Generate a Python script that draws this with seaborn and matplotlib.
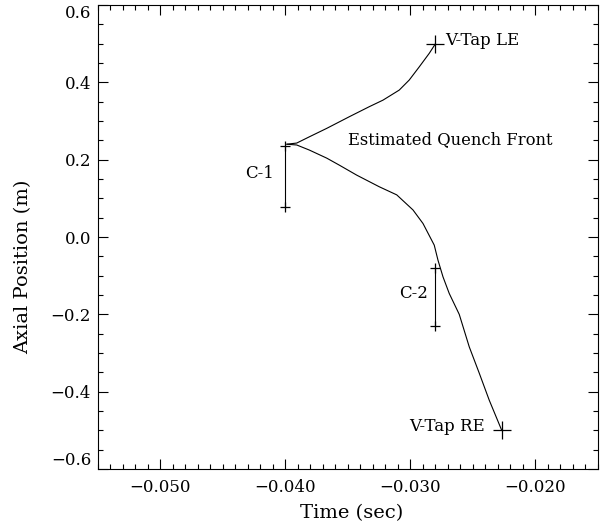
import numpy as np
import pandas as pd
import matplotlib
matplotlib.use("Agg")
import matplotlib.pyplot as plt
import seaborn as sns
from matplotlib.ticker import MultipleLocator, FuncFormatter

# Estimated quench front
upper_x = [-0.0399, -0.0391, -0.0381, -0.0367, -0.0349, -0.0333, -0.0322,
           -0.0309, -0.0301, -0.0293, -0.0285, -0.0280]
upper_y = [0.240, 0.243, 0.259, 0.281, 0.311, 0.337, 0.354,
           0.380, 0.406, 0.440, 0.475, 0.500]
lower_x = [-0.0399, -0.0391, -0.0381, -0.0367, -0.0357, -0.0343, -0.0325,
           -0.0311, -0.0298, -0.0290, -0.0281, -0.0278, -0.0274, -0.0269,
           -0.0261, -0.0253, -0.0245, -0.0237, -0.0227]
lower_y = [0.240, 0.238, 0.225, 0.204, 0.186, 0.160, 0.130,
           0.109, 0.070, 0.035, -0.021, -0.060, -0.103, -0.146,
           -0.200, -0.284, -0.352, -0.422, -0.500]

# voltage taps
vtap_names = ["V-Tap LE", "V-Tap RE"]
vtap_x = [-0.0280, -0.0227]
vtap_y = [0.500, -0.500]

# coils (start/end of each span)
coil_names = ["C-1", "C-2"]
coil_x = [-0.040, -0.028]
coil_top = [0.235, -0.079]
coil_bot = [0.078, -0.230]

sns.set_theme(style="ticks")
plt.rcParams["font.family"] = ["DejaVu Serif"]
plt.rcParams["text.color"] = "black"
plt.rcParams["axes.labelcolor"] = "black"
plt.rcParams["xtick.labelcolor"] = "black"
plt.rcParams["ytick.labelcolor"] = "black"

fig = plt.figure(figsize=(6.03, 5.27), dpi=100)
ax = fig.add_axes([0.1625, 0.110, 0.8292, 0.8805])

front = pd.concat([
    pd.DataFrame({"t": upper_x, "z": upper_y, "branch": "LE"}),
    pd.DataFrame({"t": lower_x, "z": lower_y, "branch": "RE"}),
])
sns.lineplot(data=front, x="t", y="z", units="branch", estimator=None,
             sort=False, color="black", linewidth=0.8, ax=ax)

for cx, ct, cb in zip(coil_x, coil_top, coil_bot):
    sns.lineplot(x=[cx, cx], y=[ct, cb], color="black", linewidth=0.8,
                 sort=False, estimator=None, ax=ax)
    ax.plot([cx, cx], [ct, cb], linestyle="none", marker="+",
            markersize=7, markeredgewidth=0.9, color="black")

ax.plot(vtap_x, vtap_y, linestyle="none", marker="+", markersize=13,
        markeredgewidth=0.9, color="black")

fs = 12
ax.text(-0.02720, 0.509, vtap_names[0], fontsize=fs, ha="left", va="center")
ax.text(-0.02408, -0.490, vtap_names[1], fontsize=fs, ha="right", va="center")
ax.text(-0.04088, 0.165, coil_names[0], fontsize=fs, ha="right", va="center")
ax.text(-0.02862, -0.146, coil_names[1], fontsize=fs, ha="right", va="center")
ax.text(-0.03496, 0.251, "Estimated Quench Front", fontsize=fs - 0.2,
        ha="left", va="center")

ax.set_xlim(-0.055, -0.015)
ax.set_ylim(-0.6, 0.6)
ax.xaxis.set_major_locator(MultipleLocator(0.01))
ax.xaxis.set_minor_locator(MultipleLocator(0.001))
ax.yaxis.set_major_locator(MultipleLocator(0.2))
ax.yaxis.set_minor_locator(MultipleLocator(0.05))
ax.xaxis.set_major_formatter(FuncFormatter(
    lambda v, p: f"{v:.3f}".replace("-", "\u2212")))
ax.yaxis.set_major_formatter(FuncFormatter(
    lambda v, p: f"{v + 0:.1f}".replace("-", "\u2212")))
ax.tick_params(which="both", direction="in", top=True, right=True,
               labelsize=12, color="black", width=0.8)
ax.tick_params(which="major", length=7)
ax.tick_params(which="minor", length=3.5)
ax.tick_params(axis="x", pad=7)
ax.tick_params(axis="y", pad=5)
for s in ax.spines.values():
    s.set_linewidth(0.8)
    s.set_color("black")

ax.set_xlabel("Time (sec)", fontsize=14)
ax.set_ylabel("Axial Position (m)", fontsize=14)
ax.xaxis.set_label_coords(0.508, -0.075)
ax.yaxis.set_label_coords(-0.132, 0.436)

# keep the end labels inside the frame, like the original
fig.canvas.draw()
for tick in ax.yaxis.get_major_ticks():
    loc = round(tick.get_loc(), 3)
    if loc == 0.6:
        tick.label1.set_va("top")
    elif loc == -0.6:
        tick.label1.set_va("bottom")

fig.savefig("out.png", dpi=100)
